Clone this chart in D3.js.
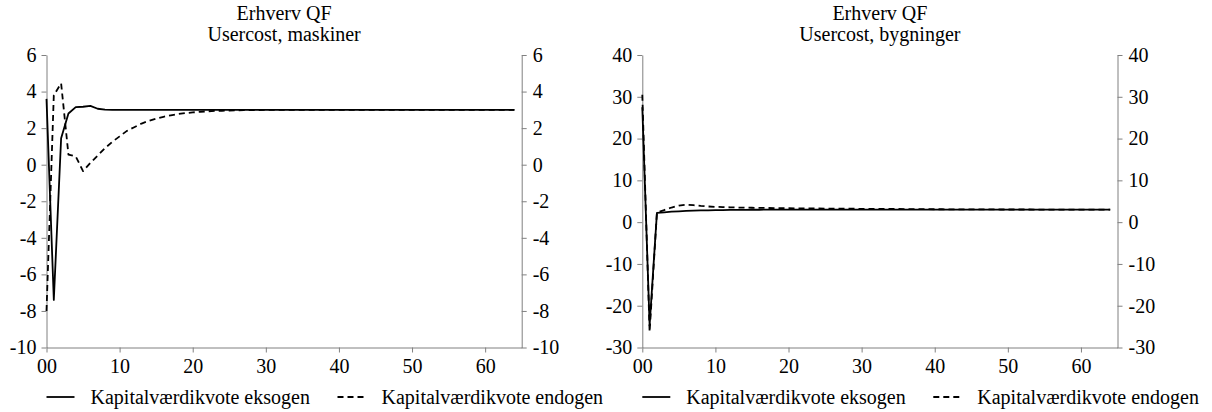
<!DOCTYPE html>
<html>
<head>
<meta charset="utf-8">
<script src="https://cdn.jsdelivr.net/npm/d3@7"></script>
<style>
  html, body { margin: 0; padding: 0; background: #fff; }
  svg { display: block; }
  text { font-family: "Liberation Serif", "Times New Roman", serif; fill: #000; }
</style>
</head>
<body>
<svg id="chart" width="1212" height="412"></svg>
<script>
// Periods 0..64 (labelled "00", "10", ... on the axis)
const periods = d3.range(65);
const xTicks = [0, 10, 20, 30, 40, 50, 60];

const seriesNames = ["Kapitalværdikvote eksogen", "Kapitalværdikvote endogen"];

// Usercost, maskiner
const maskinerEksogen = [
  3.6, -7.4, 1.45, 2.8, 3.15, 3.17, 3.22, 3.06, 3.01, 3.0,
  3.0, 3.0, 3.0, 3.0, 3.0, 3.0, 3.0, 3.0, 3.0, 3.0,
  3.0, 3.0, 3.0, 3.0, 3.0, 3.0, 3.0, 3.0, 3.0, 3.0,
  3.0, 3.0, 3.0, 3.0, 3.0, 3.0, 3.0, 3.0, 3.0, 3.0,
  3.0, 3.0, 3.0, 3.0, 3.0, 3.0, 3.0, 3.0, 3.0, 3.0,
  3.0, 3.0, 3.0, 3.0, 3.0, 3.0, 3.0, 3.0, 3.0, 3.0,
  3.0, 3.0, 3.0, 3.0, 3.0
];
const maskinerEndogen = [
  -8.0, 3.8, 4.45, 0.55, 0.45, -0.35, 0.1, 0.5, 0.9, 1.25,
  1.55, 1.85, 2.05, 2.25, 2.4, 2.52, 2.62, 2.7, 2.77, 2.82,
  2.86, 2.89, 2.92, 2.94, 2.95, 2.96, 2.97, 2.98, 2.98, 2.99,
  3.0, 3.0, 3.0, 3.0, 3.0, 3.0, 3.0, 3.0, 3.0, 3.0,
  3.0, 3.0, 3.0, 3.0, 3.0, 3.0, 3.0, 3.0, 3.0, 3.0,
  3.0, 3.0, 3.0, 3.0, 3.0, 3.0, 3.0, 3.0, 3.0, 3.0,
  3.0, 3.0, 3.0, 3.0, 3.0
];

// Usercost, bygninger
const bygningerEksogen = [
  27.5, -24.7, 2.2, 2.35, 2.5, 2.6, 2.68, 2.74, 2.8, 2.84,
  2.87, 2.9, 2.92, 2.94, 2.95, 2.96, 2.97, 2.98, 2.98, 2.99,
  2.99, 3.0, 3.0, 3.0, 3.0, 3.0, 3.0, 3.0, 3.0, 3.0,
  3.0, 3.0, 3.0, 3.0, 3.0, 3.0, 3.0, 3.0, 3.0, 3.0,
  3.0, 3.0, 3.0, 3.0, 3.0, 3.0, 3.0, 3.0, 3.0, 3.0,
  3.0, 3.0, 3.0, 3.0, 3.0, 3.0, 3.0, 3.0, 3.0, 3.0,
  3.0, 3.0, 3.0, 3.0, 3.0
];
const bygningerEndogen = [
  30.5, -26.3, 2.3, 2.9, 3.5, 3.95, 4.15, 4.05, 3.88, 3.75,
  3.66, 3.6, 3.55, 3.5, 3.47, 3.44, 3.41, 3.39, 3.37, 3.35,
  3.33, 3.31, 3.3, 3.28, 3.27, 3.25, 3.24, 3.23, 3.21, 3.2,
  3.19, 3.18, 3.17, 3.16, 3.15, 3.14, 3.13, 3.12, 3.11, 3.1,
  3.09, 3.08, 3.07, 3.07, 3.06, 3.05, 3.05, 3.04, 3.04, 3.03,
  3.03, 3.02, 3.02, 3.02, 3.01, 3.01, 3.01, 3.01, 3.0, 3.0,
  3.0, 3.0, 3.0, 3.0, 3.0
];

const maskinerTicks = [-10, -8, -6, -4, -2, 0, 2, 4, 6];
const bygningerTicks = [-30, -20, -10, 0, 10, 20, 30, 40];

const panels = [
  { title: ["Erhverv QF", "Usercost, maskiner"], left: 46.5, right: 521.7,
    yDomain: [-10, 6], yTicks: maskinerTicks, series: [maskinerEksogen, maskinerEndogen] },
  { title: ["Erhverv QF", "Usercost, bygninger"], left: 642.3, right: 1117.5,
    yDomain: [-30, 40], yTicks: bygningerTicks, series: [bygningerEksogen, bygningerEndogen] }
];

const plotTop = 55, plotBottom = 347.5;
const FONT = 20;
const axisColor = "#808080";
const dashes = [null, "6,4"];

const svg = d3.select("#chart");
svg.append("rect").attr("width", 1212).attr("height", 412).attr("fill", "#fff");

function styleAxis(g) {
  g.attr("font-family", null).attr("font-size", null);
  g.select(".domain").attr("stroke", axisColor).attr("stroke-width", 1);
  g.selectAll(".tick line").attr("stroke", axisColor).attr("stroke-width", 1);
  g.selectAll(".tick text")
    .attr("fill", "#000")
    .style("font-size", FONT + "px");
}

panels.forEach(p => {
  const x = d3.scaleLinear().domain([0, 65]).range([p.left, p.right]);
  const y = d3.scaleLinear().domain(p.yDomain).range([plotBottom, plotTop]);
  const g = svg.append("g");

  // two-line panel title
  const cx = (p.left + p.right) / 2;
  p.title.forEach((t, i) => {
    g.append("text").attr("x", cx).attr("y", 20 + i * 21)
      .attr("text-anchor", "middle").style("font-size", FONT + "px").text(t);
  });

  const fmt = d => String(d);

  g.append("g").attr("transform", `translate(${p.left},0)`)
    .call(d3.axisLeft(y).tickValues(p.yTicks).tickFormat(fmt).tickSize(5).tickSizeOuter(0).tickPadding(5))
    .call(styleAxis);

  g.append("g").attr("transform", `translate(${p.right},0)`)
    .call(d3.axisRight(y).tickValues(p.yTicks).tickFormat(fmt).tickSize(5).tickSizeOuter(0).tickPadding(6))
    .call(styleAxis);

  g.append("g").attr("transform", `translate(0,${plotBottom})`)
    .call(d3.axisBottom(x).tickValues(xTicks).tickFormat(d3.format("02d")).tickSize(5).tickSizeOuter(0).tickPadding(6))
    .call(styleAxis);

  const line = d3.line().x((d, i) => x(periods[i])).y(d => y(d));

  p.series.forEach((s, k) => {
    g.append("path").datum(s)
      .attr("d", line)
      .attr("fill", "none")
      .attr("stroke", "#000")
      .attr("stroke-width", 1.8)
      .attr("stroke-linejoin", "round")
      .attr("stroke-dasharray", dashes[k]);
  });

  // legend row under the plot
  const ly = 397;
  const offsets = [0, 291];
  seriesNames.forEach((name, k) => {
    const lx = p.left + offsets[k];
    g.append("line").attr("x1", lx).attr("x2", lx + 28).attr("y1", ly).attr("y2", ly)
      .attr("stroke", "#000").attr("stroke-width", 1.8).attr("stroke-dasharray", dashes[k]);
    g.append("text").attr("x", lx + 44).attr("y", ly + 7)
      .style("font-size", FONT + "px").text(name);
  });
});
</script>
</body>
</html>
